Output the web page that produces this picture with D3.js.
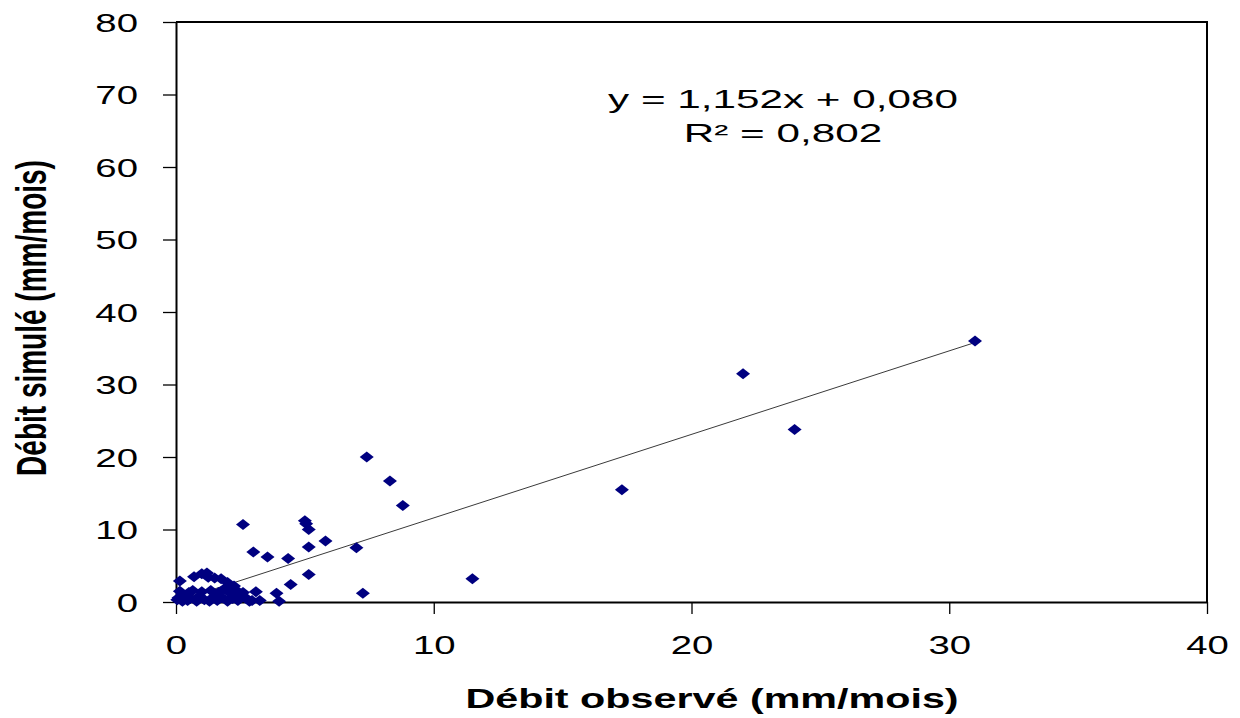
<!DOCTYPE html>
<html>
<head>
<meta charset="utf-8">
<script src="https://cdn.jsdelivr.net/npm/d3@7"></script>
<style>
  html, body { margin: 0; padding: 0; background: #fff; }
  svg { display: block; }
</style>
</head>
<body>
<svg id="chart" width="1240" height="718"></svg>
<script>
// Observed vs simulated monthly discharge (mm/mois)
const observed = [
  31.0, 22.0, 24.0, 17.3, 11.5, 7.4, 8.3, 8.8, 2.6, 5.0, 5.05, 5.15, 5.8, 7.0,
  3.0, 3.55, 4.35, 5.15, 5.15, 4.45, 3.1, 3.9, 4.0, 7.25, 2.95,
  0.05, 0.1, 0.15, 0.15, 0.25, 0.3, 0.45, 0.55, 0.65, 0.7, 0.8, 0.9, 1.0, 1.0,
  1.1, 1.2, 1.25, 1.3, 1.35, 1.45, 1.5, 1.6, 1.65, 1.75, 1.8, 1.9, 2.0, 2.0,
  2.1, 2.2, 2.25, 2.35, 2.4, 2.5, 2.6, 2.7, 2.85, 3.25, 0.5
];
const simulated = [
  36.0, 31.5, 23.8, 15.5, 3.2, 20.0, 16.7, 13.3, 10.7, 11.2, 10.8, 10.0, 8.4, 7.5,
  6.9, 6.2, 6.0, 7.6, 3.8, 2.4, 1.4, 1.2, 0.1, 1.2, 0.2,
  0.3, 0.6, 1.5, 2.9, 0.1, 0.9, 0.2, 0.5, 1.6, 3.5, 0.1, 0.8, 1.4, 3.9,
  0.3, 4.0, 3.4, 0.1, 1.6, 0.7, 3.3, 0.2, 1.3, 3.2, 0.6, 1.9, 0.1, 2.7,
  1.2, 0.5, 2.2, 1.6, 0.2, 0.9, 1.3, 0.6, 0.1, 0.2, 1.3
];

// Linear trend reported on the chart
const slope = 1.152;
const intercept = 0.080;
const r2 = 0.802;

const xTicks = [0, 10, 20, 30, 40];
const yTicks = [0, 10, 20, 30, 40, 50, 60, 70, 80];

const fmt = v => v.toFixed(3).replace(".", ",");
const eqLines = [
  `y = ${fmt(slope)}x + ${fmt(intercept)}`,
  `R² = ${fmt(r2)}`
];
const xTitle = "Débit observé (mm/mois)";
const yTitle = "Débit simulé (mm/mois)";

const stretch = 1.475;           // horizontal widening of the lettering
const font = "'Liberation Sans', Arial, sans-serif";

const svg = d3.select("#chart");
const plot = { left: 176, right: 1207, top: 22, bottom: 602 };

const x = d3.scaleLinear().domain([0, 40]).range([plot.left, plot.right]);
const y = d3.scaleLinear().domain([0, 80]).range([plot.bottom, plot.top]);

// Plot frame (top and right edges)
svg.append("path")
  .attr("d", `M${plot.left},${plot.top}H${plot.right}V${plot.bottom}`)
  .attr("fill", "none")
  .attr("stroke", "#000")
  .attr("stroke-width", 2);

// Axes
const yAxis = svg.append("g")
  .attr("transform", `translate(${plot.left},0)`)
  .call(d3.axisLeft(y).tickValues(yTicks).tickSize(13).tickSizeOuter(0).tickFormat(d3.format("d")));
const xAxis = svg.append("g")
  .attr("transform", `translate(0,${plot.bottom})`)
  .call(d3.axisBottom(x).tickValues(xTicks).tickSize(12).tickSizeOuter(0).tickFormat(d3.format("d")));

[yAxis, xAxis].forEach(g => {
  g.select(".domain").attr("stroke", "#000").attr("stroke-width", 2);
  g.selectAll(".tick line").attr("stroke", "#000").attr("stroke-width", 1.3);
  g.selectAll("text")
    .attr("font-family", font)
    .attr("font-size", 26)
    .attr("fill", "#000");
});
yAxis.selectAll(".tick text")
  .attr("x", 0).attr("dy", "0.36em")
  .attr("transform", `translate(-38,0) scale(${stretch},1)`);
xAxis.selectAll(".tick text")
  .attr("y", 0).attr("dy", 0)
  .attr("transform", `translate(0,52) scale(${stretch},1)`);

// Trend line over the observed range
const xExt = [0, d3.max(observed)];
svg.append("line")
  .attr("x1", x(xExt[0])).attr("y1", y(slope * xExt[0] + intercept))
  .attr("x2", x(xExt[1])).attr("y2", y(slope * xExt[1] + intercept))
  .attr("stroke", "#3a3a3a")
  .attr("stroke-width", 1);

// Diamond markers
const hw = 7, hh = 5.5;
const diamond = `M0,${-hh}L${hw},0L0,${hh}L${-hw},0Z`;
svg.append("g")
  .selectAll("path")
  .data(observed.map((o, i) => [o, simulated[i]]))
  .join("path")
  .attr("d", diamond)
  .attr("transform", d => `translate(${x(d[0])},${y(d[1])})`)
  .attr("fill", "#000080");

// Equation and R²
const eq = svg.append("g").attr("font-family", font).attr("font-size", 25).attr("fill", "#000");
eq.selectAll("text")
  .data(eqLines)
  .join("text")
  .attr("text-anchor", "middle")
  .attr("transform", (d, i) => `translate(783,${108 + i * 34}) scale(1.69,1)`)
  .text(d => d);

// Axis titles
svg.append("text")
  .attr("font-family", font).attr("font-size", 28).attr("font-weight", "bold")
  .attr("text-anchor", "middle")
  .attr("transform", `translate(712,708) scale(${stretch},1)`)
  .text(xTitle);

svg.append("text")
  .attr("font-family", font).attr("font-size", 28).attr("font-weight", "bold")
  .attr("text-anchor", "middle")
  .attr("transform", `translate(46,318) scale(1.55,1) rotate(-90)`)
  .text(yTitle);
</script>
</body>
</html>
